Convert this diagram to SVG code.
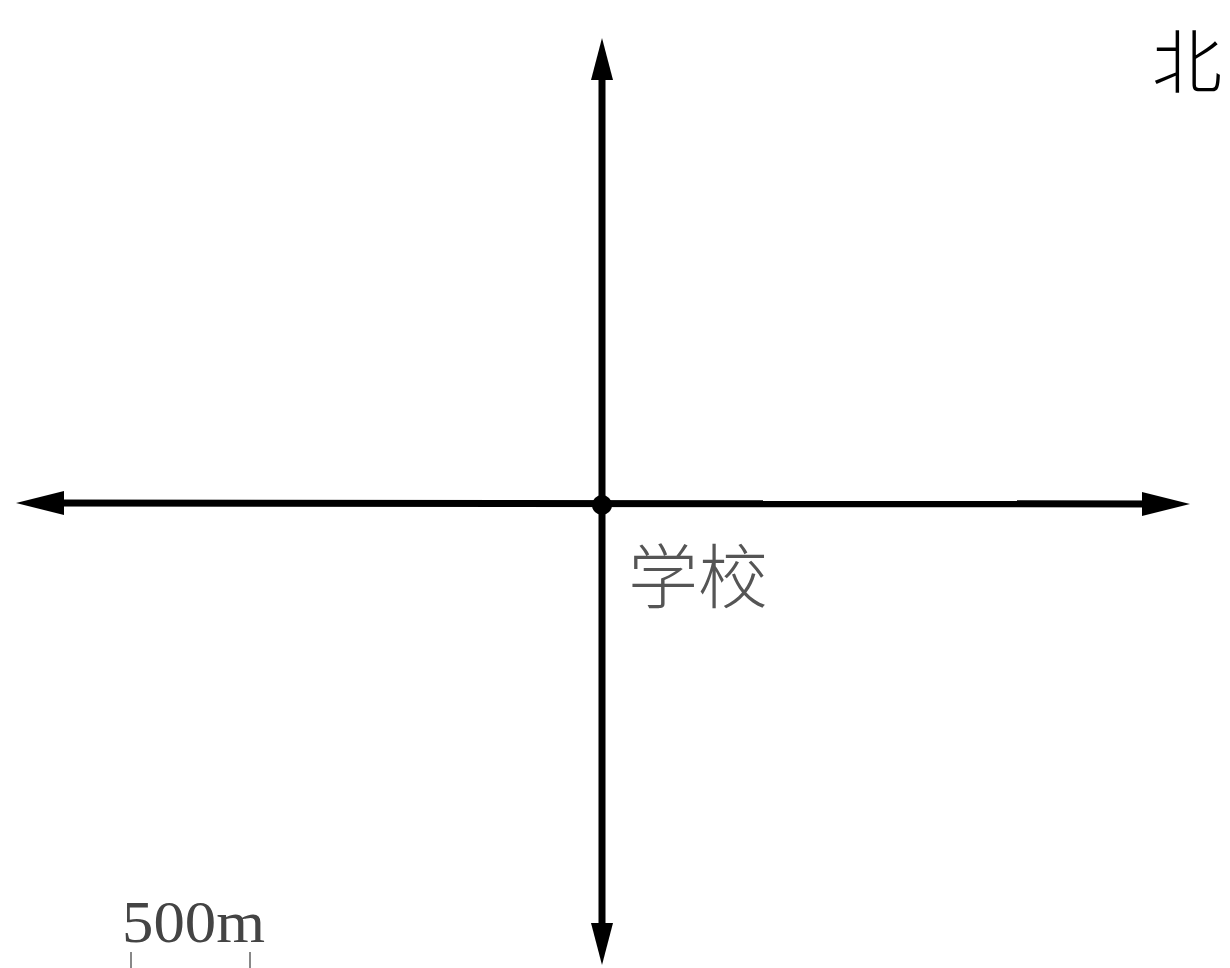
<svg xmlns="http://www.w3.org/2000/svg" width="1230" height="968" viewBox="0 0 1230 968">
<style>
.axis{stroke:#000;stroke-width:7;fill:none}
.head{fill:#000}
.cjk{font-family:"Noto Sans CJK SC",sans-serif}
</style>
<rect width="1230" height="968" fill="#fff"/>
<g id="connectors">
<line class="axis" x1="602" y1="70" x2="602" y2="935"/>
<line class="axis" x1="50" y1="503" x2="1160" y2="504"/>
<polygon class="head" points="602,38 591,80 613,80"/>
<polygon class="head" points="602,965 591,923 613,923"/>
<polygon class="head" points="16,503 64,491 64,515"/>
<polygon class="head" points="1190,504 1142,492 1142,516"/>
</g>
<g id="school">
<circle cx="602" cy="505" r="10" fill="#000"/>
<text x="628" y="603" class="cjk" font-size="70" fill="#555" font-weight="300">学校</text>
</g>
<g id="north">
<text x="1152" y="88" class="cjk" font-size="70" fill="#000" font-weight="300">北</text>
</g>
<g id="scale">
<text x="122" y="942" font-family="Liberation Serif,serif" font-size="60" fill="#444" textLength="143" lengthAdjust="spacingAndGlyphs">500m</text>
<line x1="131" y1="952" x2="131" y2="968" stroke="#888" stroke-width="2"/>
<line x1="250" y1="952" x2="250" y2="968" stroke="#888" stroke-width="2"/>
</g>
</svg>
